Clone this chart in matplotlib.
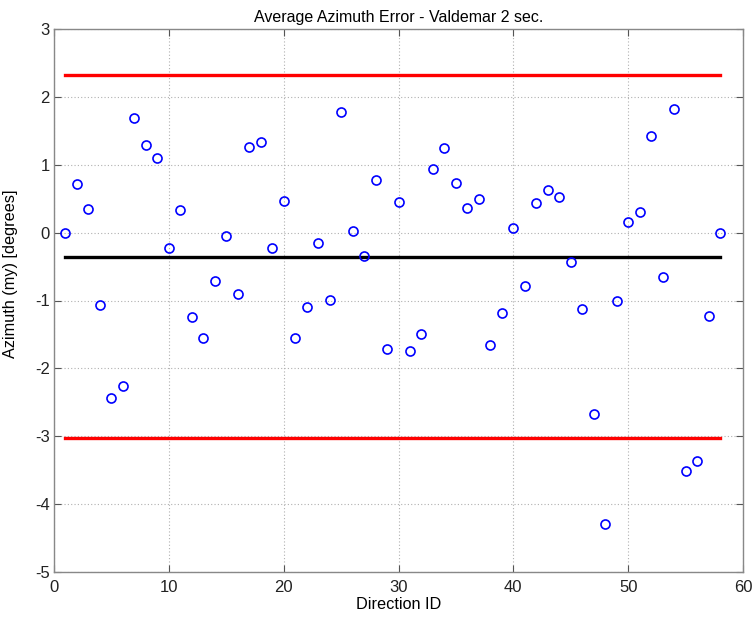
import matplotlib
matplotlib.use("Agg")
import matplotlib.pyplot as plt
import numpy as np

plt.rcParams['font.family'] = ['Liberation Sans', 'DejaVu Sans']
plt.rcParams['axes.unicode_minus'] = False

direction_id = list(range(1, 59))
azimuth_error = [0.00, 0.71, 0.35, -1.07, -2.44, -2.26, 1.69, 1.29, 1.10, -0.22,
                 0.34, -1.25, -1.55, -0.72, -0.05, -0.90, 1.26, 1.34, -0.22, 0.47,
                 -1.55, -1.10, -0.15, -0.99, 1.78, 0.02, -0.34, 0.78, -1.72, 0.45,
                 -1.74, -1.50, 0.94, 1.25, 0.73, 0.37, 0.50, -1.66, -1.19, 0.07,
                 -0.79, 0.44, 0.63, 0.52, -0.43, -1.12, -2.67, -4.29, -1.00, 0.16,
                 0.30, 1.42, -0.65, 1.82, -3.51, -3.37, -1.23, 0.00]
mean_value = -0.353
upper_limit = 2.32
lower_limit = -3.02

fig = plt.figure(figsize=(7.52, 6.19), dpi=100)
ax = fig.add_axes([54/752, 1-572/619, (743-54)/752, (572-29)/619])

x0, x1 = direction_id[0], direction_id[-1]
ax.plot([x0, x1], [upper_limit, upper_limit], color='#ff0000', lw=2.4, zorder=3)
ax.plot([x0, x1], [lower_limit, lower_limit], color='#ff0000', lw=2.4, zorder=3)
ax.plot([x0, x1], [mean_value, mean_value], color='black', lw=2.4, zorder=3)
ax.plot(direction_id, azimuth_error, linestyle='none', marker='o', markersize=6.5,
        markerfacecolor='none', markeredgecolor='#0000ff', markeredgewidth=1.2, zorder=4)

ax.set_xlim(0, 60)
ax.set_ylim(-5, 3)
ax.set_xticks(range(0, 61, 10))
ax.set_yticks(range(-5, 4))
ax.grid(True, linestyle=(0, (1, 2)), color='#b0b0b0', linewidth=0.8)
ax.set_axisbelow(True)
ax.tick_params(direction='in', top=True, right=True, labelsize=12, length=5,
               color='#555555', labelcolor='#222222', pad=3)
ax.tick_params(axis='x', pad=6)
for s in ax.spines.values():
    s.set_color('#888888')
    s.set_linewidth(1.0)

ax.set_title('Average Azimuth Error - Valdemar 2 sec.', fontsize=11.5, pad=5)
ax.set_xlabel('Direction ID', fontsize=11.7, labelpad=1)
ax.set_ylabel('Azimuth (my) [degrees]', fontsize=11.7)
ax.yaxis.set_label_coords(-0.052, 0.55)

fig.savefig('out.png', dpi=100)
